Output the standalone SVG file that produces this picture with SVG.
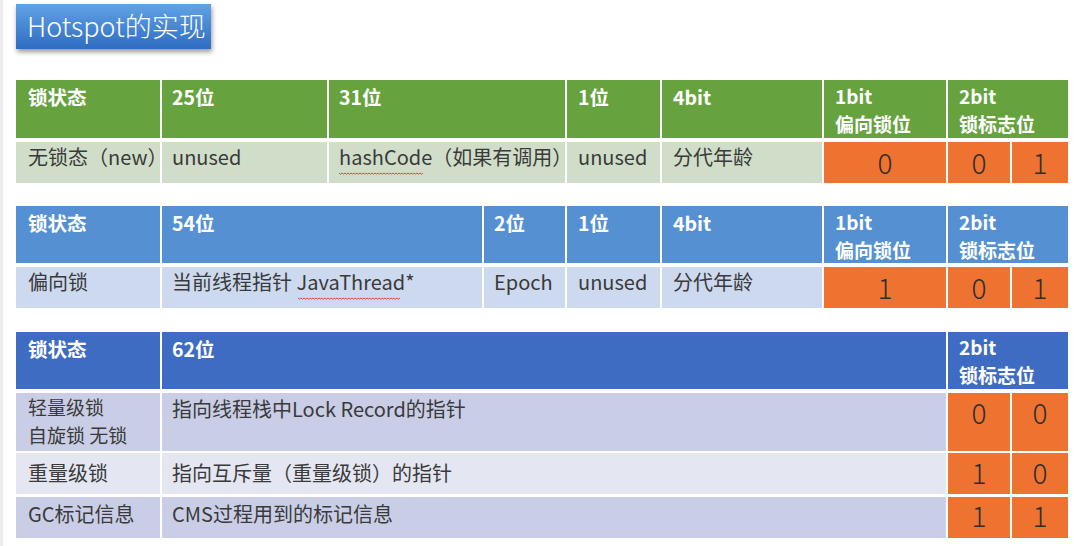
<svg xmlns="http://www.w3.org/2000/svg" width="1074" height="546" viewBox="0 0 1074 546">
<defs>
<linearGradient id="tg" x1="0" y1="0" x2="0" y2="1">
<stop offset="0" stop-color="#62A3E6"/>
<stop offset="1" stop-color="#2E6CC0"/>
</linearGradient>
<filter id="sh" x="-10%" y="-20%" width="120%" height="160%">
<feDropShadow dx="1" dy="3" stdDeviation="2.5" flood-color="#000" flood-opacity="0.4"/>
</filter>
</defs>
<style>
text{font-family:'Noto Sans CJK SC','Noto Sans',sans-serif;}
.h{fill:#fff;font-size:19.5px;font-weight:bold;}
.h2{fill:#fff;font-size:19px;font-weight:bold;}
.b{fill:#3a3a3a;font-size:20px;}
.b2l{fill:#3a3a3a;font-size:19px;}
.d{fill:#2e2e2e;font-size:28px;text-anchor:middle;font-weight:300;}
.g1{fill:#66A33F;}
.g2{fill:#D0DEC9;}
.b1{fill:#5591D2;}
.b2{fill:#CDD9EE;}
.c1{fill:#3F6CC3;}
.c2{fill:#C9CEE6;}
.c3{fill:#E4E7F2;}
.o{fill:#EE7330;}
.sq{fill:none;stroke:#E0453C;stroke-width:1;}
</style>
<rect x="0" y="0" width="1074" height="546" fill="#ffffff"/>
<rect x="0" y="0" width="3" height="546" fill="#ECECEC"/>

<g id="title">
<rect x="16" y="4" width="195" height="45" fill="url(#tg)" filter="url(#sh)"/>
<text x="27" y="37" fill="#ffffff" font-size="27" font-weight="300">Hotspot的实现</text>
</g>

<g id="table-nolock">
<rect class="g1" x="16" y="80" width="144" height="58"/>
<rect class="g1" x="162" y="80" width="165" height="58"/>
<rect class="g1" x="329" y="80" width="236" height="58"/>
<rect class="g1" x="567" y="80" width="93" height="58"/>
<rect class="g1" x="662" y="80" width="160" height="58"/>
<rect class="g1" x="824" y="80" width="122" height="58"/>
<rect class="g1" x="948" y="80" width="120" height="58"/>
<text class="h" x="28" y="105">锁状态</text>
<text class="h" x="172" y="105">25位</text>
<text class="h" x="339" y="105">31位</text>
<text class="h" x="578" y="105">1位</text>
<text class="h" x="673" y="105">4bit</text>
<text class="h2" x="835" y="104">1bit</text>
<text class="h2" x="835" y="132">偏向锁位</text>
<text class="h2" x="959" y="104">2bit</text>
<text class="h2" x="959" y="132">锁标志位</text>
<rect class="g2" x="16" y="142" width="144" height="41"/>
<rect class="g2" x="162" y="142" width="165" height="41"/>
<rect class="g2" x="329" y="142" width="236" height="41"/>
<rect class="g2" x="567" y="142" width="93" height="41"/>
<rect class="g2" x="662" y="142" width="160" height="41"/>
<rect class="o" x="824" y="142" width="122" height="41"/>
<rect class="o" x="948" y="142" width="62" height="41"/>
<rect class="o" x="1012" y="142" width="56" height="41"/>
<text class="b" x="28" y="165">无锁态（new）</text>
<text class="b" x="172" y="165">unused</text>
<text class="b" x="339" y="165">hashCode（如果有调用）</text>
<path class="sq" d="M339 173 l1.5 1.2 l1.5 -1.2 l1.5 1.2 l1.5 -1.2 l1.5 1.2 l1.5 -1.2 l1.5 1.2 l1.5 -1.2 l1.5 1.2 l1.5 -1.2 l1.5 1.2 l1.5 -1.2 l1.5 1.2 l1.5 -1.2 l1.5 1.2 l1.5 -1.2 l1.5 1.2 l1.5 -1.2 l1.5 1.2 l1.5 -1.2 l1.5 1.2 l1.5 -1.2 l1.5 1.2 l1.5 -1.2 l1.5 1.2 l1.5 -1.2 l1.5 1.2 l1.5 -1.2 l1.5 1.2 l1.5 -1.2 l1.5 1.2 l1.5 -1.2 l1.5 1.2 l1.5 -1.2 l1.5 1.2 l1.5 -1.2 l1.5 1.2 l1.5 -1.2 l1.5 1.2 l1.5 -1.2 l1.5 1.2 l1.5 -1.2 l1.5 1.2 l1.5 -1.2 l1.5 1.2 l1.5 -1.2 l1.5 1.2 l1.5 -1.2 l1.5 1.2 l1.5 -1.2 l1.5 1.2 l1.5 -1.2 l1.5 1.2 l1.5 -1.2 l1.5 1.2 l1.5 -1.2"/>
<text class="b" x="578" y="165">unused</text>
<text class="b" x="673" y="165">分代年龄</text>
<text class="d" x="885" y="174">0</text>
<text class="d" x="979" y="174">0</text>
<text class="d" x="1040" y="174">1</text>
</g>

<g id="table-biased">
<rect class="b1" x="16" y="206" width="144" height="57"/>
<rect class="b1" x="162" y="206" width="320" height="57"/>
<rect class="b1" x="484" y="206" width="81" height="57"/>
<rect class="b1" x="567" y="206" width="93" height="57"/>
<rect class="b1" x="662" y="206" width="160" height="57"/>
<rect class="b1" x="824" y="206" width="122" height="57"/>
<rect class="b1" x="948" y="206" width="120" height="57"/>
<text class="h" x="28" y="231">锁状态</text>
<text class="h" x="172" y="231">54位</text>
<text class="h" x="494" y="231">2位</text>
<text class="h" x="578" y="231">1位</text>
<text class="h" x="673" y="231">4bit</text>
<text class="h2" x="835" y="230">1bit</text>
<text class="h2" x="835" y="258">偏向锁位</text>
<text class="h2" x="959" y="230">2bit</text>
<text class="h2" x="959" y="258">锁标志位</text>
<rect class="b2" x="16" y="267" width="144" height="41"/>
<rect class="b2" x="162" y="267" width="320" height="41"/>
<rect class="b2" x="484" y="267" width="81" height="41"/>
<rect class="b2" x="567" y="267" width="93" height="41"/>
<rect class="b2" x="662" y="267" width="160" height="41"/>
<rect class="o" x="824" y="267" width="122" height="41"/>
<rect class="o" x="948" y="267" width="62" height="41"/>
<rect class="o" x="1012" y="267" width="56" height="41"/>
<text class="b" x="28" y="290">偏向锁</text>
<text class="b" x="172" y="290">当前线程指针 JavaThread*</text>
<path class="sq" d="M298 298 l1.5 1.2 l1.5 -1.2 l1.5 1.2 l1.5 -1.2 l1.5 1.2 l1.5 -1.2 l1.5 1.2 l1.5 -1.2 l1.5 1.2 l1.5 -1.2 l1.5 1.2 l1.5 -1.2 l1.5 1.2 l1.5 -1.2 l1.5 1.2 l1.5 -1.2 l1.5 1.2 l1.5 -1.2 l1.5 1.2 l1.5 -1.2 l1.5 1.2 l1.5 -1.2 l1.5 1.2 l1.5 -1.2 l1.5 1.2 l1.5 -1.2 l1.5 1.2 l1.5 -1.2 l1.5 1.2 l1.5 -1.2 l1.5 1.2 l1.5 -1.2 l1.5 1.2 l1.5 -1.2 l1.5 1.2 l1.5 -1.2 l1.5 1.2 l1.5 -1.2 l1.5 1.2 l1.5 -1.2 l1.5 1.2 l1.5 -1.2 l1.5 1.2 l1.5 -1.2 l1.5 1.2 l1.5 -1.2 l1.5 1.2 l1.5 -1.2 l1.5 1.2 l1.5 -1.2 l1.5 1.2 l1.5 -1.2 l1.5 1.2 l1.5 -1.2 l1.5 1.2 l1.5 -1.2 l1.5 1.2 l1.5 -1.2 l1.5 1.2 l1.5 -1.2 l1.5 1.2 l1.5 -1.2 l1.5 1.2 l1.5 -1.2 l1.5 1.2 l1.5 -1.2 l1.5 1.2 l1.5 -1.2"/>
<text class="b" x="494" y="290">Epoch</text>
<text class="b" x="578" y="290">unused</text>
<text class="b" x="673" y="290">分代年龄</text>
<text class="d" x="885" y="299">1</text>
<text class="d" x="979" y="299">0</text>
<text class="d" x="1040" y="299">1</text>
</g>

<g id="table-other">
<rect class="c1" x="16" y="332" width="144" height="57"/>
<rect class="c1" x="162" y="332" width="784" height="57"/>
<rect class="c1" x="948" y="332" width="120" height="57"/>
<text class="h" x="28" y="357">锁状态</text>
<text class="h" x="172" y="357">62位</text>
<text class="h2" x="959" y="355">2bit</text>
<text class="h2" x="959" y="383">锁标志位</text>
<rect class="c2" x="16" y="393" width="144" height="58"/>
<rect class="c2" x="162" y="393" width="784" height="58"/>
<rect class="o" x="948" y="393" width="62" height="58"/>
<rect class="o" x="1012" y="393" width="56" height="58"/>
<text class="b2l" x="28" y="415">轻量级锁</text>
<text class="b2l" x="28" y="443">自旋锁 无锁</text>
<text class="b" x="172" y="417">指向线程栈中Lock Record的指针</text>
<text class="d" x="979" y="424">0</text>
<text class="d" x="1040" y="424">0</text>
<rect class="c3" x="16" y="453" width="144" height="41"/>
<rect class="c3" x="162" y="453" width="784" height="41"/>
<rect class="o" x="948" y="453" width="62" height="41"/>
<rect class="o" x="1012" y="453" width="56" height="41"/>
<text class="b" x="28" y="481">重量级锁</text>
<text class="b" x="172" y="481">指向互斥量（重量级锁）的指针</text>
<text class="d" x="979" y="484">1</text>
<text class="d" x="1040" y="484">0</text>
<rect class="c2" x="16" y="497" width="144" height="41"/>
<rect class="c2" x="162" y="497" width="784" height="41"/>
<rect class="o" x="948" y="497" width="62" height="41"/>
<rect class="o" x="1012" y="497" width="56" height="41"/>
<text class="b" x="28" y="522">GC标记信息</text>
<text class="b" x="172" y="522">CMS过程用到的标记信息</text>
<text class="d" x="979" y="527">1</text>
<text class="d" x="1040" y="527">1</text>
</g>
</svg>
